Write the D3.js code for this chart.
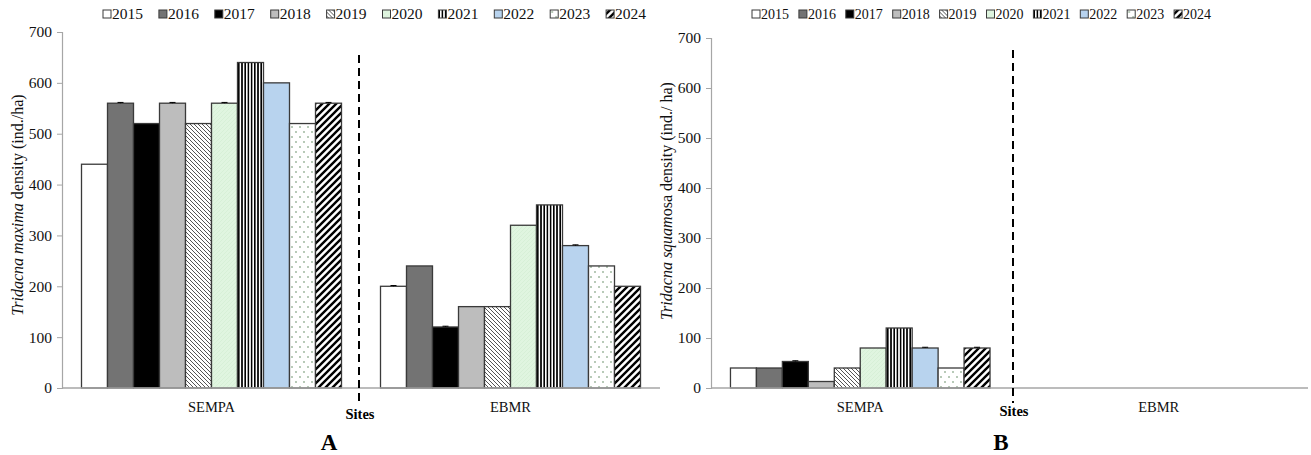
<!DOCTYPE html>
<html>
<head>
<meta charset="utf-8">
<script src="https://cdn.jsdelivr.net/npm/d3@7"></script>
<style>
  body { margin: 0; background: #fff; }
  svg, svg text { font-family: "Liberation Serif", "Times New Roman", serif; }
</style>
</head>
<body>
<svg id="chart" width="1311" height="455"></svg>
<script>
// data
const years = ["2015", "2016", "2017", "2018", "2019", "2020", "2021", "2022", "2023", "2024"];
const sites = ["SEMPA", "EBMR"];
const yTicks = [0, 100, 200, 300, 400, 500, 600, 700];

// panel A - Tridacna maxima
const maximaSEMPA = [440, 560, 520, 560, 520, 560, 640, 600, 520, 560];
const maximaEBMR = [200, 240, 120, 160, 160, 320, 360, 280, 240, 200];
const maximaErrSEMPA = [0, 1.5, 0, 1.5, 0, 1.5, 0, 0, 0, 1.5];
const maximaErrEBMR = [1.5, 0, 1.5, 0, 0, 0, 0, 1.5, 0, 0];

// panel B - Tridacna squamosa
const squamosaSEMPA = [40, 40, 53, 13, 40, 80, 120, 80, 40, 80];
const squamosaEBMR = [0, 0, 0, 0, 0, 0, 0, 0, 0, 0];
const squamosaErrSEMPA = [0, 0, 1.5, 0, 0, 0, 0, 1.5, 0, 1.5];
const squamosaErrEBMR = [0, 0, 0, 0, 0, 0, 0, 0, 0, 0];

const svg = d3.select("#chart");
const defs = svg.append("defs");

// fills / patterns
function pat(id, w, h, bg, draw) {
    let p = defs.append("pattern")
        .attr("id", id)
        .attr("patternUnits", "userSpaceOnUse")
        .attr("width", w)
        .attr("height", h);
    p.append("rect").attr("width", w).attr("height", h).attr("fill", bg);
    draw(p);
}
pat("p2019", 4, 4, "#fff", p => {
    p.append("path").attr("d", "M-1,-1 L5,5 M-1,3 L1,5 M3,-1 L5,1")
        .attr("stroke", "#555").attr("stroke-width", 1);
});
pat("p2020", 4, 4, "#e0f5e0", p => {
    p.append("path").attr("d", "M0,4 L4,0").attr("stroke", "#d2ecd2").attr("stroke-width", 0.6);
});
pat("p2021", 3.2, 4, "#fff", p => {
    p.append("rect").attr("width", 1.6).attr("height", 4).attr("fill", "#000");
});
pat("p2023", 8, 10, "#fff", p => {
    p.append("circle").attr("cx", 2).attr("cy", 2).attr("r", 0.7).attr("fill", "#3c6e3c");
    p.append("circle").attr("cx", 6).attr("cy", 7).attr("r", 0.7).attr("fill", "#3c6e3c");
});
pat("p2024", 7, 7, "#fff", p => {
    p.append("path").attr("d", "M-2,2 L2,-2 M0,7 L7,0 M5,9 L9,5")
        .attr("stroke", "#000").attr("stroke-width", 2.4);
});

const fills = ["#ffffff", "#737373", "#000000", "#bdbdbd", "url(#p2019)",
    "url(#p2020)", "url(#p2021)", "#b8d3ee", "url(#p2023)", "url(#p2024)"];
const color = d3.scaleOrdinal().domain(years).range(fills);

function drawPanel(opts) {
    const g = svg.append("g");
    const y = d3.scaleLinear().domain([0, 700]).range([388, opts.top]);
    const x0 = d3.scaleBand().domain(sites).range([opts.left, opts.right]);
    const x1 = d3.scaleBand().domain(years).range([0, x0.bandwidth()])
        .paddingInner(0).paddingOuter(0.75);

    // y axis
    const yAxis = d3.axisLeft(y).tickValues(yTicks).tickSize(5).tickPadding(5);
    const ya = g.append("g")
        .attr("transform", "translate(" + opts.left + ",0)")
        .call(yAxis)
        .attr("font-family", "Liberation Serif");
    ya.select(".domain").attr("stroke", "#a6a6a6").attr("stroke-width", 1.2);
    ya.selectAll(".tick line").attr("stroke", "#a6a6a6");
    ya.selectAll(".tick text")
        .attr("font-size", 15.5)
        .attr("fill", "#111");

    // bars
    const data = sites.map((s, si) => ({
        site: s,
        vals: years.map((yr, i) => ({ year: yr, v: opts.values[si][i], e: opts.errs[si][i] }))
    }));
    const groups = g.selectAll(".site")
        .data(data)
        .enter()
        .append("g")
        .attr("transform", d => "translate(" + x0(d.site) + ",0)");

    groups.selectAll("rect")
        .data(d => d.vals.filter(v => v.v > 0))
        .enter()
        .append("rect")
        .attr("x", d => x1(d.year))
        .attr("y", d => y(d.v))
        .attr("width", x1.bandwidth())
        .attr("height", d => y(0) - y(d.v))
        .attr("fill", d => color(d.year))
        .attr("stroke", "#3a3a3a")
        .attr("stroke-width", 1.3);

    // tiny error bars
    const errs = groups.selectAll(".err")
        .data(d => d.vals.filter(v => v.e > 0))
        .enter()
        .append("g");
    errs.append("line")
        .attr("x1", d => x1(d.year) + x1.bandwidth() / 2)
        .attr("x2", d => x1(d.year) + x1.bandwidth() / 2)
        .attr("y1", d => y(d.v))
        .attr("y2", d => y(d.v + d.e))
        .attr("stroke", "#000");
    errs.append("line")
        .attr("x1", d => x1(d.year) + x1.bandwidth() / 2 - 3)
        .attr("x2", d => x1(d.year) + x1.bandwidth() / 2 + 3)
        .attr("y1", d => y(d.v + d.e))
        .attr("y2", d => y(d.v + d.e))
        .attr("stroke", "#000");

    // x axis line
    g.append("line")
        .attr("x1", opts.left).attr("x2", opts.right)
        .attr("y1", y(0)).attr("y2", y(0))
        .attr("stroke", "#a6a6a6").attr("stroke-width", 1.3);

    // category labels
    g.selectAll(".cat")
        .data(sites)
        .enter()
        .append("text")
        .attr("x", d => x0(d) + x0.bandwidth() / 2)
        .attr("y", 412)
        .attr("text-anchor", "middle")
        .attr("font-size", 14.5)
        .attr("fill", "#111")
        .text(d => d);

    // dashed divider
    g.append("line")
        .attr("x1", opts.divX).attr("x2", opts.divX)
        .attr("y1", opts.divTop).attr("y2", 403)
        .attr("stroke", "#000")
        .attr("stroke-width", 2)
        .attr("stroke-dasharray", "8,5");

    g.append("text")
        .attr("x", opts.divX + 1).attr("y", opts.sitesY)
        .attr("text-anchor", "middle")
        .attr("font-weight", "bold")
        .attr("font-size", 14.5)
        .text("Sites");

    // panel letter
    g.append("text")
        .attr("x", opts.letterX).attr("y", 450)
        .attr("text-anchor", "middle")
        .attr("font-weight", "bold")
        .attr("font-size", 23)
        .text(opts.letter);

    // y title, centred by measured length
    const t = g.append("text")
        .attr("text-anchor", "start")
        .attr("font-size", 16)
        .attr("fill", "#111");
    t.append("tspan").attr("font-style", "italic").text(opts.titleItalic);
    t.append("tspan").text(opts.titleRest);
    const len = t.node().getComputedTextLength();
    t.attr("transform", "translate(" + opts.titleX + "," + (opts.titleY + len / 2) + ") rotate(-90)");

    // legend
    const items = g.append("g").selectAll(".leg")
        .data(years)
        .enter()
        .append("g")
        .attr("transform", (d, i) => "translate(" + (opts.legX + i * opts.legStep) + ",0)");
    items.append("rect")
        .attr("x", 0).attr("y", 10)
        .attr("width", 8).attr("height", 8)
        .attr("fill", d => color(d))
        .attr("stroke", "#3a3a3a")
        .attr("stroke-width", 1);
    items.append("text")
        .attr("x", 9).attr("y", 19)
        .attr("font-size", opts.legFont)
        .attr("fill", "#111")
        .text(d => d);
}

drawPanel({
    left: 62, right: 660, top: 32,
    values: [maximaSEMPA, maximaEBMR],
    errs: [maximaErrSEMPA, maximaErrEBMR],
    divX: 359, divTop: 55, sitesY: 419,
    letter: "A", letterX: 329,
    titleX: 23, titleY: 205,
    titleItalic: "Tridacna maxima", titleRest: " density (ind./ha)",
    legX: 103, legStep: 55.9, legFont: 15.5
});

drawPanel({
    left: 711, right: 1308, top: 38,
    values: [squamosaSEMPA, squamosaEBMR],
    errs: [squamosaErrSEMPA, squamosaErrEBMR],
    divX: 1013, divTop: 50, sitesY: 416,
    letter: "B", letterX: 1001,
    titleX: 672, titleY: 201,
    titleItalic: "Tridacna squam", titleRest: "osa density (ind./ ha)",
    legX: 752, legStep: 46.9, legFont: 14
});
</script>
</body>
</html>
